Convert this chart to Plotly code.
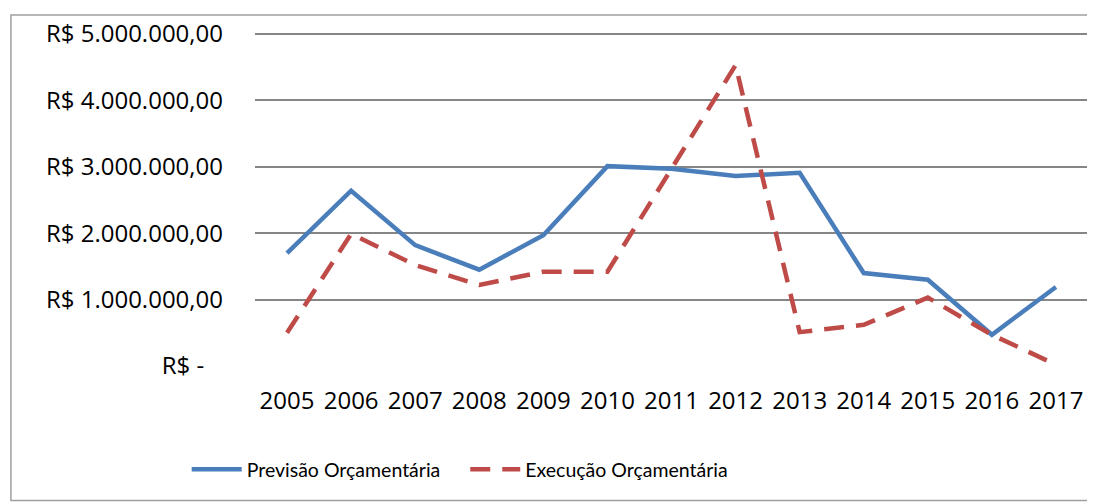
import plotly.graph_objects as go

years = ["2005", "2006", "2007", "2008", "2009", "2010", "2011", "2012", "2013", "2014", "2015", "2016", "2017"]
previsao = [1700000, 2640000, 1820000, 1450000, 1970000, 3010000, 2970000, 2860000, 2910000, 1400000, 1300000, 470000, 1190000]
execucao = [500000, 1990000, 1520000, 1220000, 1420000, 1420000, 2970000, 4530000, 510000, 620000, 1030000, 470000, 20000]
y_ticks = [0, 1000000, 2000000, 3000000, 4000000, 5000000]
y_labels = ["R$ -\u00a0\u00a0\u00a0", "R$ 1.000.000,00", "R$ 2.000.000,00", "R$ 3.000.000,00", "R$ 4.000.000,00", "R$ 5.000.000,00"]

FONT = "Open Sans"
LEG_FONT = "Lato"

fig = go.Figure()
fig.add_trace(go.Scatter(x=years, y=previsao, mode="lines", name="Previsão Orçamentária\u00a0\u00a0\u00a0\u00a0",
                         line=dict(color="#4A7EBB", width=4.5)))
fig.add_trace(go.Scatter(x=years, y=execucao, mode="lines", name="Execução Orçamentária",
                         line=dict(color="#BE4B48", width=4.5, dash="20px,12px")))

fig.update_layout(
    width=1087, height=495,
    margin=dict(l=247, r=7, t=22, b=137),
    paper_bgcolor="white", plot_bgcolor="white",
    font=dict(family=FONT, size=24, color="black"),
    showlegend=True,
    legend=dict(orientation="h", x=-0.082, xanchor="left", y=-0.25, yanchor="top",
                font=dict(family=LEG_FONT, size=19.5), itemwidth=50, tracegroupgap=0),
    xaxis=dict(type="category", range=[-0.5, 12.5], showgrid=False, showline=False, zeroline=False,
               ticks="", ticklabelstandoff=18, tickfont=dict(size=24)),
    yaxis=dict(range=[0, 5060000], tickvals=y_ticks, ticktext=y_labels,
               showgrid=True, gridcolor="#868686", gridwidth=1.5, zeroline=False,
               showline=False, ticks="", ticklabelstandoff=31, tickfont=dict(size=24)),
    shapes=[dict(type="rect", xref="paper", yref="paper", x0=-0.293, x1=1.006, y0=-0.40, y1=1.045,
                 line=dict(color="#A0A0A0", width=1.5), layer="below")],
)

fig.write_html("out.html")
